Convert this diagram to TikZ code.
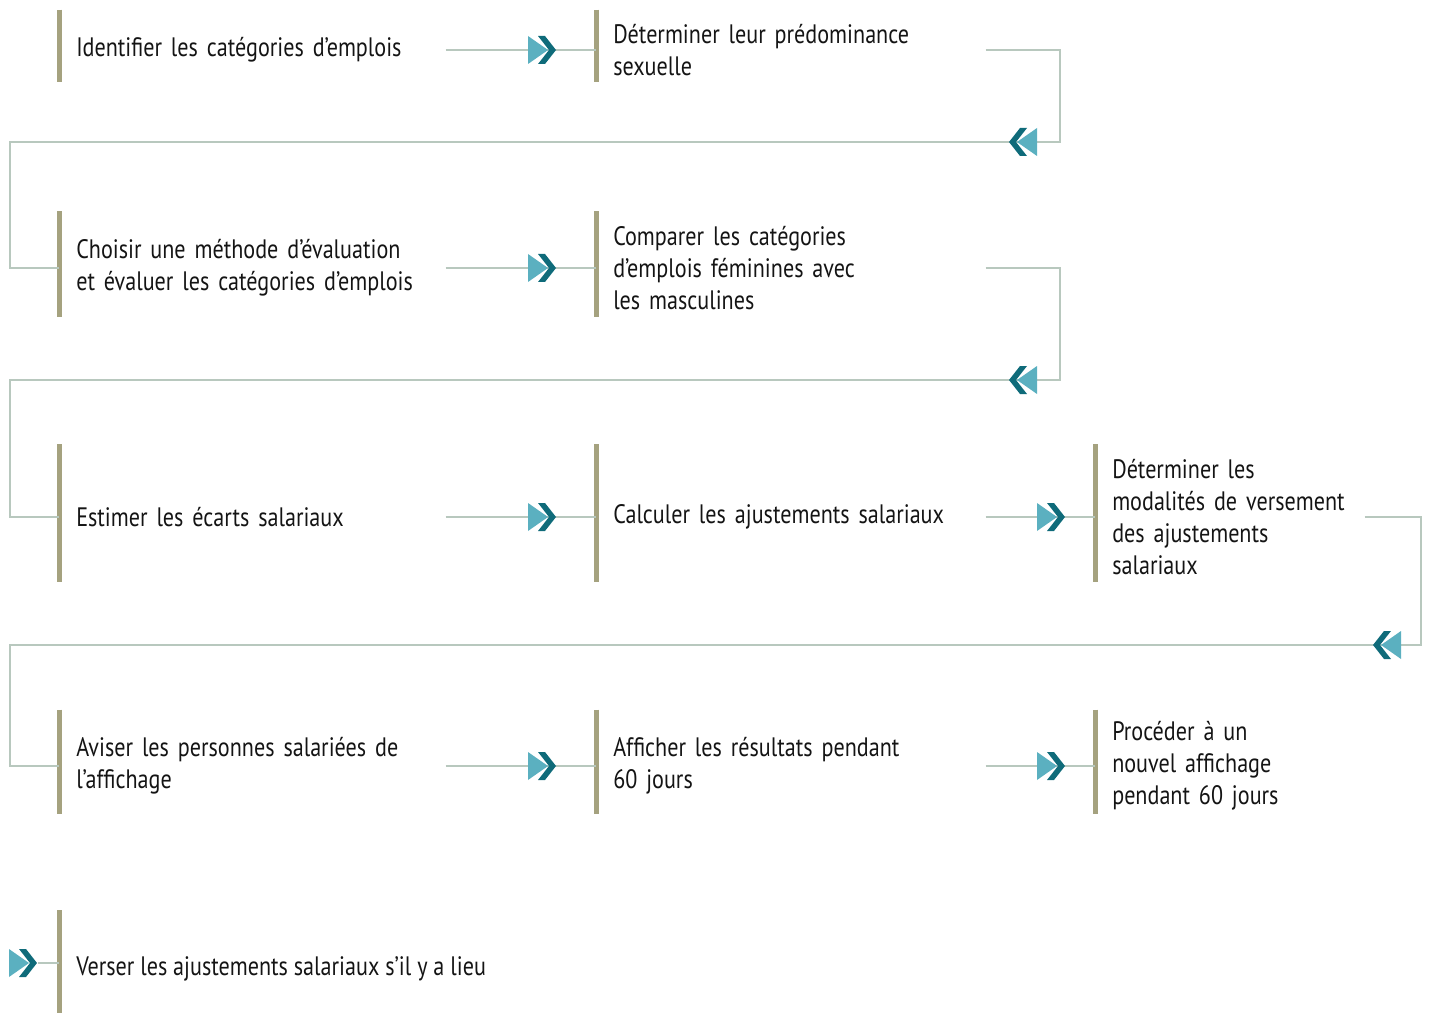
\documentclass[tikz,border=0pt]{standalone}
\usepackage{fontspec}
\setmainfont{PT Sans}[FakeStretch=0.83]
\usetikzlibrary{calc}

\definecolor{barolive}{HTML}{A5A27F}
\definecolor{linkgray}{HTML}{B8C8BE}
\definecolor{teallight}{HTML}{5BB0C0}
\definecolor{tealdark}{HTML}{0F6B7A}

\tikzset{
    stepbox/.style={anchor=west, align=left, inner xsep=12.75pt, inner ysep=0pt,
        font=\fontsize{20}{24}\selectfont, text=black!92},
    colA/.style={text width=264pt},
    colB/.style={text width=266.25pt},
    colC/.style={text width=176.25pt},
    bar/.style={draw=barolive, line width=3.75pt},
    link/.style={draw=linkgray, line width=1pt},
    fwd/.style={minimum size=22pt, inner sep=0pt, path picture={
        \fill[teallight] ([shift={(-14,-14)}]path picture bounding box.center) -- ++(20,14) -- ++(-20,14) -- cycle;
        \fill[tealdark] ([shift={(-4,-14)}]path picture bounding box.center) -- ++(7,0) -- ++(11,14) -- ++(-11,14) -- ++(-7,0) -- ++(11,-14) -- cycle;
    }},
    back/.style={minimum size=22pt, inner sep=0pt, path picture={
        \fill[teallight] ([shift={(14,-14)}]path picture bounding box.center) -- ++(-20,14) -- ++(20,14) -- cycle;
        \fill[tealdark] ([shift={(4,-14)}]path picture bounding box.center) -- ++(-7,0) -- ++(-11,14) -- ++(11,14) -- ++(7,0) -- ++(-11,-14) -- cycle;
    }},
}

\begin{document}
\begin{tikzpicture}[x=0.75pt, y=-0.75pt]
    \useasboundingbox (0,0) rectangle (1429,1013);

    % steps
    \node[stepbox, colA, minimum height=54pt] (s1) at (59,50) {Identifier les catégories d’emplois};
    \node[stepbox, colB, minimum height=54pt] (s2) at (596,50) {Déterminer leur prédominance\\sexuelle};
    \node[stepbox, colA, minimum height=78.75pt] (s3) at (59,268) {Choisir une méthode d’évaluation\\et évaluer les catégories d’emplois};
    \node[stepbox, colB, minimum height=78.75pt] (s4) at (596,268) {Comparer les catégories\\d’emplois féminines avec\\les masculines};
    \node[stepbox, colA, minimum height=102.75pt] (s5) at (59,517) {Estimer les écarts salariaux};
    \node[stepbox, colB, minimum height=102.75pt] (s6) at (596,517) {Calculer les ajustements salariaux};
    \node[stepbox, colC, minimum height=102.75pt] (s7) at (1095,517) {Déterminer les\\modalités de versement\\des ajustements\\salariaux};
    \node[stepbox, colA, minimum height=78pt] (s8) at (59,766) {Aviser les personnes salariées de\\l’affichage};
    \node[stepbox, colB, minimum height=78pt] (s9) at (596,766) {Afficher les résultats pendant\\60 jours};
    \node[stepbox, colC, minimum height=78pt] (s10) at (1095,766) {Procéder à un\\nouvel affichage\\pendant 60 jours};
    \node[stepbox, minimum height=82pt] (s11) at (59,969) {Verser les ajustements salariaux s’il y a lieu};

    \foreach \n in {s1,s2,s3,s4,s5,s6,s7,s8,s9,s10,s11}
        \draw[bar] ([yshift=3pt]\n.north west) -- ([yshift=3pt]\n.south west);

    % turns
    \coordinate (r1) at (1060,142);
    \coordinate (l1) at (10,142);
    \coordinate (r2) at (1060,380);
    \coordinate (l2) at (10,380);
    \coordinate (r3) at (1421,645);
    \coordinate (l3) at (10,645);

    \draw[link] (s1.east) -- (s2.west);
    \draw[link] (s2.east) -| (r1) -- (l1) |- (s3.west);
    \draw[link] (s3.east) -- (s4.west);
    \draw[link] (s4.east) -| (r2) -- (l2) |- (s5.west);
    \draw[link] (s5.east) -- (s6.west);
    \draw[link] (s6.east) -- (s7.west);
    \draw[link] (s7.east) -| (r3) -- (l3) |- (s8.west);
    \draw[link] (s8.east) -- (s9.west);
    \draw[link] (s9.east) -- (s10.west);

    % chevrons
    \node[fwd] (a1) at (542,50) {};
    \node[back] (b1) at (1023,142) {};
    \node[fwd] (a2) at (542,268) {};
    \node[back] (b2) at (1023,380) {};
    \node[fwd] (a3) at (542,517) {};
    \node[fwd] (a4) at (1051,517) {};
    \node[back] (b3) at (1387,645) {};
    \node[fwd] (a5) at (542,766) {};
    \node[fwd] (a6) at (1051,766) {};
    \node[fwd] (a7) at (23,963) {};
    \draw[link] (a7.east) -- (a7.east -| s11.west);
\end{tikzpicture}
\end{document}
